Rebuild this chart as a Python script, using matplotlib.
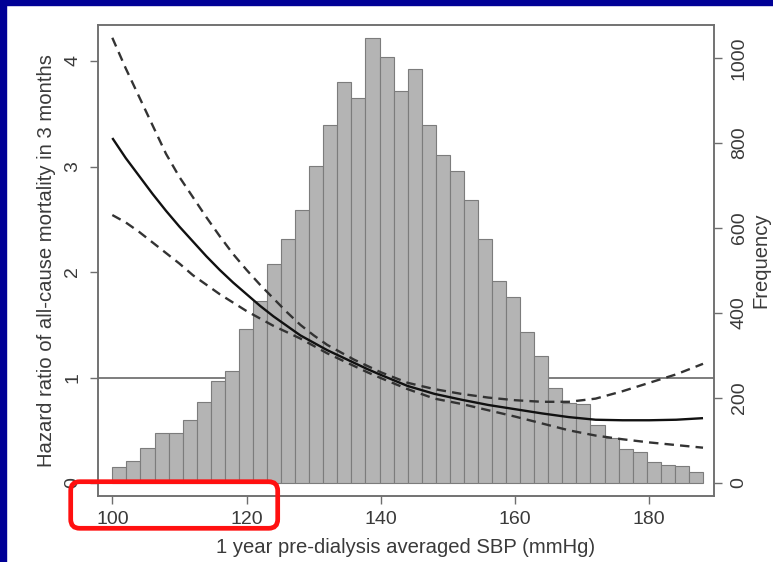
import matplotlib
matplotlib.use("Agg")
import matplotlib.pyplot as plt
import matplotlib.transforms as mtransforms
from matplotlib.patches import FancyBboxPatch, Rectangle
import numpy as np

plt.rcParams["font.family"] = ["Liberation Sans", "DejaVu Sans"]

# histogram of 1-year averaged SBP (42 bins starting at 100)
BIN_START = 100.0
BIN_WIDTH = 88.0 / 42
freq = [37, 52, 82, 117, 117, 148, 191, 241, 264, 362,
        428, 515, 574, 642, 747, 842, 944, 905, 1046, 1002,
        923, 973, 842, 772, 733, 666, 574, 475, 438, 356,
        299, 223, 188, 186, 136, 105, 79, 74, 50, 42,
        40, 27]

# hazard ratio curve with 95% CI
sbp = [100, 102, 104, 106, 108, 110, 112, 114, 116, 118, 120, 122, 124, 126,
       128, 130, 132, 134, 136, 138, 140, 144, 148, 152, 156, 160, 164, 168,
       172, 176, 180, 184, 188]
hr = [3.27, 3.08, 2.91, 2.74, 2.58, 2.43, 2.29, 2.15, 2.02, 1.90, 1.79, 1.68,
      1.58, 1.49, 1.40, 1.33, 1.26, 1.20, 1.14, 1.08, 1.025, 0.92, 0.845,
      0.79, 0.74, 0.70, 0.66, 0.625, 0.60, 0.595, 0.595, 0.60, 0.615]
hr_hi = [4.22, 3.93, 3.66, 3.39, 3.12, 2.90, 2.71, 2.52, 2.34, 2.17, 2.02, 1.88,
         1.75, 1.62, 1.50, 1.40, 1.31, 1.24, 1.17, 1.11, 1.05, 0.95, 0.89,
         0.845, 0.81, 0.785, 0.77, 0.77, 0.80, 0.87, 0.95, 1.03, 1.13]
hr_lo = [2.54, 2.47, 2.38, 2.28, 2.18, 2.08, 1.97, 1.88, 1.79, 1.71, 1.63, 1.56,
         1.49, 1.43, 1.37, 1.30, 1.23, 1.17, 1.11, 1.05, 0.995, 0.89, 0.80,
         0.75, 0.69, 0.63, 0.565, 0.50, 0.45, 0.415, 0.385, 0.36, 0.335]

hr_ticks = [0, 1, 2, 3, 4]
freq_ticks = [0, 200, 400, 600, 800, 1000]
sbp_ticks = [100, 120, 140, 160, 180]

TXT = "#3a3a3a"
AX = "#6e6e6e"
LBL = 14.6
TCK = 14

fig = plt.figure(figsize=(7.73, 5.62), dpi=100)
fig.patch.set_facecolor("white")

# frequency axis first (bottom layer), hazard ratio axis on top
ax_f = fig.add_axes([0.1268, 0.1174, 0.7969, 0.8381])
ax_h = ax_f.twinx()

edges = BIN_START + BIN_WIDTH * np.arange(len(freq))
ax_f.bar(edges, freq, width=BIN_WIDTH, align="edge", color="#b4b4b4",
         edgecolor="#7c7c7c", linewidth=0.8, zorder=2)
ax_f.set_ylim(-30.6, 1077.6)
ax_f.set_yticks(freq_ticks)
ax_f.yaxis.tick_right()
ax_f.yaxis.set_label_position("right")
ax_f.set_ylabel("Frequency", fontsize=LBL, color=TXT, labelpad=3)

ax_h.set_ylim(-0.123, 4.341)
ax_h.set_yticks(hr_ticks)
ax_h.yaxis.tick_left()
ax_h.yaxis.set_label_position("left")
ax_h.set_ylabel("Hazard ratio of all-cause mortality in 3 months",
                fontsize=LBL, color=TXT, labelpad=6)

# reference line HR=1, behind the bars
ref_tr = mtransforms.blended_transform_factory(ax_f.transAxes, ax_h.transData)
ax_f.plot([0, 1], [1, 1], transform=ref_tr, color="#5a5a5a", lw=1.1, zorder=1)

ax_h.plot(sbp, hr, color="#111111", lw=1.7, solid_capstyle="butt")
ax_h.plot(sbp, hr_hi, color="#333333", lw=1.7, linestyle=(0, (4, 2.6)))
ax_h.plot(sbp, hr_lo, color="#333333", lw=1.7, linestyle=(0, (4, 2.6)))

ax_f.set_xlim(97.87, 189.64)
ax_f.set_xticks(sbp_ticks)
ax_f.set_xlabel("1 year pre-dialysis averaged SBP (mmHg)", fontsize=LBL,
                color=TXT, labelpad=7)

for a in (ax_f, ax_h):
    for s in a.spines.values():
        s.set_color(AX)
        s.set_linewidth(1.1)
    a.tick_params(colors=AX, labelcolor=TXT, labelsize=TCK, length=6, width=1.0)
ax_f.tick_params(axis="x", pad=5)
ax_f.tick_params(axis="y", pad=6)
ax_h.tick_params(axis="y", pad=6)
for lab in ax_f.get_yticklabels() + ax_h.get_yticklabels():
    lab.set_rotation(90)
    lab.set_va("center")

# slide decoration: navy border and red highlight box
fig.patches.append(Rectangle((0, 1 - 4.5 / 562), 1, 4.5 / 562, transform=fig.transFigure,
                             color="#000096", zorder=5))
fig.patches.append(Rectangle((0, 0), 6 / 773, 1, transform=fig.transFigure,
                             color="#000096", zorder=5))
box = FancyBboxPatch((0.707, 0.337), 2.07, 0.466,
                     boxstyle="round,pad=0,rounding_size=0.09",
                     transform=fig.dpi_scale_trans, fill=False,
                     edgecolor="#ff1010", linewidth=3.4, zorder=6)
fig.patches.append(box)

fig.savefig("out.png", dpi=100)
